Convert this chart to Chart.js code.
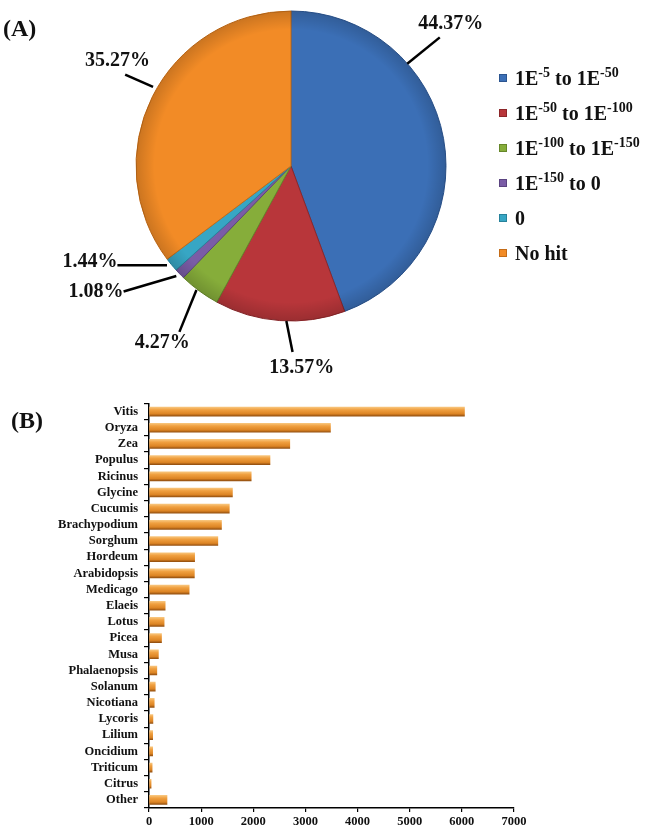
<!DOCTYPE html>
<html>
<head>
<meta charset="utf-8">
<script src="https://cdn.jsdelivr.net/npm/chart.js@4.4.1/dist/chart.umd.min.js"></script>
<style>
  html, body { margin: 0; padding: 0; background: #fff; }
  #wrap { position: relative; width: 652px; height: 827px; }
  #pie { position: absolute; left: 0; top: 0; }
  #bar { position: absolute; left: 0; top: 390px; }
  .tag { position: absolute; font: bold 24px "Liberation Serif", "Times New Roman", serif; color: #111; }
</style>
</head>
<body>
<div id="wrap">
  <canvas id="pie" width="652" height="390"></canvas>
  <canvas id="bar" width="652" height="437"></canvas>
  <div class="tag" style="left:3px;top:15px">(A)</div>
  <div class="tag" style="left:11px;top:407px">(B)</div>
</div>
<script>
// (A) e-value distribution, "^" marks a superscript
const evalueBins = ["1E^-5 to 1E^-50", "1E^-50 to 1E^-100", "1E^-100 to 1E^-150", "1E^-150 to 0", "0", "No hit"];
const evaluePercent = [44.37, 13.57, 4.27, 1.08, 1.44, 35.27];

// (B) top-hit genera
const genera = ["Vitis", "Oryza", "Zea", "Populus", "Ricinus", "Glycine", "Cucumis", "Brachypodium",
  "Sorghum", "Hordeum", "Arabidopsis", "Medicago", "Elaeis", "Lotus", "Picea", "Musa", "Phalaenopsis",
  "Solanum", "Nicotiana", "Lycoris", "Lilium", "Oncidium", "Triticum", "Citrus", "Other"];
const generaHits = [6050, 3480, 2700, 2320, 1960, 1600, 1540, 1390, 1320, 875, 870, 770,
  310, 290, 240, 180, 150, 120, 100, 75, 70, 70, 60, 40, 345];
const hitTicks = [0, 1000, 2000, 3000, 4000, 5000, 6000, 7000];

const sliceColors = ["#3b6fb6", "#b8363a", "#86ad3a", "#7a5ca6", "#37a6c4", "#f28b26"];
const sliceEdges = ["#2c5590", "#8c2629", "#66872a", "#5b4380", "#27829b", "#c46c18"];

const serif = '"Liberation Serif", "Times New Roman", serif';

// leader lines: point on rim, elbow, text anchor (radius units from centre)
const leaders = [
  { rim: [0.75, -0.66], elbow: [0.96, -0.83], text: [1.03, -0.92], align: "center" },
  { rim: [-0.03, 1.0], elbow: [0.01, 1.2], text: [0.07, 1.30], align: "center" },
  { rim: [-0.61, 0.80], elbow: [-0.72, 1.07], text: [-0.83, 1.14], align: "center" },
  { rim: [-0.74, 0.71], elbow: [-1.08, 0.81], text: [-1.08, 0.81], align: "right" },
  { rim: [-0.80, 0.64], elbow: [-1.12, 0.64], text: [-1.12, 0.62], align: "right" },
  { rim: [-0.89, -0.51], elbow: [-1.07, -0.59], text: [-1.12, -0.68], align: "center" }
];

const pieLabels = {
  id: "pieLabels",
  afterDatasetsDraw(chart) {
    const arc = chart.getDatasetMeta(0).data[0];
    const cx = arc.x, cy = arc.y, r = arc.outerRadius;
    const ctx = chart.ctx;
    ctx.save();
    // soft rim shading for the bevelled look
    const g = ctx.createRadialGradient(cx, cy, r * 0.88, cx, cy, r);
    g.addColorStop(0, "rgba(0,0,0,0)");
    g.addColorStop(1, "rgba(0,0,0,0.16)");
    ctx.beginPath();
    ctx.arc(cx, cy, r, 0, Math.PI * 2);
    ctx.fillStyle = g;
    ctx.fill();

    ctx.strokeStyle = "#000";
    ctx.lineWidth = 2.5;
    ctx.fillStyle = "#111";
    ctx.font = "bold 20px " + serif;
    ctx.textBaseline = "middle";
    evaluePercent.forEach((v, i) => {
      const l = leaders[i];
      ctx.beginPath();
      ctx.moveTo(cx + l.rim[0] * r, cy + l.rim[1] * r);
      ctx.lineTo(cx + l.elbow[0] * r, cy + l.elbow[1] * r);
      ctx.stroke();
      ctx.textAlign = l.align;
      ctx.fillText(v.toFixed(2) + "%", cx + l.text[0] * r, cy + l.text[1] * r);
    });
    ctx.restore();
  }
};

const pieLegend = {
  id: "pieLegend",
  afterDraw(chart) {
    const ctx = chart.ctx;
    const x0 = 499, y0 = 78, step = 35;
    ctx.save();
    ctx.textBaseline = "alphabetic";
    ctx.textAlign = "left";
    chart.data.labels.forEach((label, i) => {
      const y = y0 + i * step;
      ctx.fillStyle = sliceColors[i];
      ctx.fillRect(x0, y - 4, 8, 8);
      ctx.strokeStyle = sliceEdges[i];
      ctx.lineWidth = 1;
      ctx.strokeRect(x0 + 0.5, y - 3.5, 7, 7);
      let x = x0 + 16;
      ctx.fillStyle = "#111";
      label.split(/\^(\S+)/).forEach((part, k) => {
        if (!part) return;
        const sup = k % 2 === 1;
        ctx.font = "bold " + (sup ? 14 : 20) + "px " + serif;
        ctx.fillText(part, x, y + (sup ? -1 : 7));
        x += ctx.measureText(part).width;
      });
    });
    ctx.restore();
  }
};

new Chart(document.getElementById("pie"), {
  type: "pie",
  data: {
    labels: evalueBins,
    datasets: [{
      data: evaluePercent,
      backgroundColor: sliceColors,
      borderColor: sliceEdges,
      borderWidth: 1,
      hoverOffset: 0
    }]
  },
  options: {
    responsive: false,
    animation: false,
    devicePixelRatio: 1,
    radius: 155,
    layout: { padding: { left: 136, right: 206, top: 11, bottom: 69 } },
    plugins: { legend: { display: false }, tooltip: { enabled: false } }
  },
  plugins: [pieLabels, pieLegend]
});

function barFill(c) {
  const y = c.chart.scales && c.chart.scales.y;
  const py = y && c.type === "data" ? y.getPixelForValue(c.dataIndex) : NaN;
  if (!Number.isFinite(py)) return "#e8902c";
  const g = c.chart.ctx.createLinearGradient(0, py - 4.5, 0, py + 4.5);
  g.addColorStop(0, "#f8c57c");
  g.addColorStop(0.3, "#f0a040");
  g.addColorStop(0.75, "#dc8424");
  g.addColorStop(1, "#945010");
  return g;
}

new Chart(document.getElementById("bar"), {
  type: "bar",
  data: {
    labels: genera,
    datasets: [{
      data: generaHits,
      backgroundColor: barFill,
      barThickness: 9
    }]
  },
  options: {
    indexAxis: "y",
    responsive: false,
    animation: false,
    devicePixelRatio: 1,
    layout: { padding: { top: 11, right: 138, left: 0, bottom: 0 } },
    plugins: { legend: { display: false }, tooltip: { enabled: false } },
    scales: {
      x: {
        type: "linear",
        min: hitTicks[0],
        max: hitTicks[hitTicks.length - 1],
        afterBuildTicks: (s) => { s.ticks = hitTicks.map((v) => ({ value: v })); },
        afterFit: (s) => { s.height = 19; },
        grid: { drawOnChartArea: false, drawTicks: true, tickLength: 4, color: "#000", lineWidth: 1.2 },
        border: { color: "#000", width: 1.5 },
        ticks: {
          color: "#111", padding: 2, callback: (v) => String(v),
          font: { family: serif, size: 12.5, weight: "bold" }
        }
      },
      y: {
        afterFit: (s) => { s.width = 149; },
        grid: { drawOnChartArea: false, drawTicks: true, tickLength: 5, color: "#000", lineWidth: 1.2, offset: true },
        border: { color: "#000", width: 1.5 },
        ticks: { color: "#111", padding: 6, autoSkip: false, font: { family: serif, size: 12.5, weight: "bold" } }
      }
    }
  }
});
</script>
</body>
</html>
